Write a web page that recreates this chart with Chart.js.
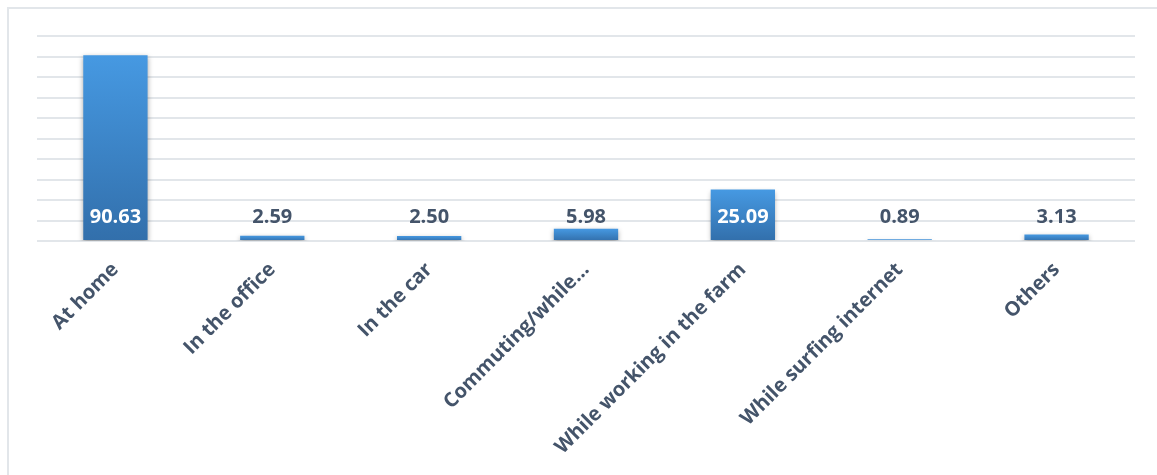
<!DOCTYPE html>
<html>
<head>
<meta charset="utf-8">
<script src="https://cdn.jsdelivr.net/npm/chart.js@4.4.1/dist/chart.umd.min.js"></script>
<style>
  html, body { margin: 0; padding: 0; background: #ffffff; }
  #wrap { position: relative; width: 1157px; height: 475px; }
  #frame { position: absolute; left: 7px; top: 7px; width: 1160px; height: 480px;
           border-left: 2px solid #e2e6ea; border-top: 2px solid #e2e6ea; box-sizing: border-box; }
  canvas { position: absolute; left: 0; top: 0; }
</style>
</head>
<body>
<div id="wrap">
  <div id="frame"></div>
  <canvas id="c" width="1157" height="475"></canvas>
</div>
<script>
// Where respondents listen to the radio (percent)
const categories = [
  'At home', 'In the office', 'In the car', 'Commuting/while\u2026',
  'While working in the farm', 'While surfing internet', 'Others'
];
const shares = [90.63, 2.59, 2.50, 5.98, 25.09, 0.89, 3.13];
const valueLabels = ['90.63', '2.59', '2.50', '5.98', '25.09', '0.89', '3.13'];

const LABEL_FONT = '"Open Sans", "Liberation Sans", sans-serif';
const TEXT_DARK = '#44546a';

// soft drop shadow under the columns
const barShadow = {
  id: 'barShadow',
  beforeDatasetsDraw(chart) {
    const ctx = chart.ctx;
    ctx.save();
    ctx.shadowColor = 'rgba(0,0,0,0.35)';
    ctx.shadowBlur = 5;
    ctx.shadowOffsetX = 0;
    ctx.shadowOffsetY = 2;
  },
  afterDatasetsDraw(chart) {
    chart.ctx.restore();
  }
};

// value labels sit just above the base of each column
const valueText = {
  id: 'valueText',
  afterDatasetsDraw(chart) {
    const ctx = chart.ctx;
    const meta = chart.getDatasetMeta(0);
    const yScale = chart.scales.y;
    const base = yScale.getPixelForValue(0);
    const ly = base - 24;
    ctx.save();
    ctx.font = 'bold 20px ' + LABEL_FONT;
    ctx.textAlign = 'center';
    ctx.textBaseline = 'middle';
    meta.data.forEach((bar, i) => {
      const top = yScale.getPixelForValue(shares[i]);
      ctx.fillStyle = top < ly - 12 ? '#ffffff' : TEXT_DARK;
      ctx.fillText(valueLabels[i], bar.x, ly);
    });
    ctx.restore();
  }
};

const ctx = document.getElementById('c').getContext('2d');
new Chart(ctx, {
  type: 'bar',
  data: {
    labels: categories,
    datasets: [{
      data: shares,
      backgroundColor(context) {
        const chart = context.chart;
        const yScale = chart.scales.y;
        if (!yScale || !chart.chartArea) return '#3f8ad2';
        const v = context.raw;
        const top = yScale.getPixelForValue(v);
        const bottom = yScale.getPixelForValue(0);
        if (!isFinite(top) || !isFinite(bottom) || bottom - top < 1) return '#4699e2';
        const g = chart.ctx.createLinearGradient(0, top, 0, bottom);
        g.addColorStop(0, '#4699e2');
        g.addColorStop(1, '#326fab');
        return g;
      },
      borderWidth: 0,
      categoryPercentage: 1.0,
      barPercentage: 0.41
    }]
  },
  options: {
    responsive: false,
    animation: false,
    layout: { padding: { top: 36, left: 37, right: 22, bottom: 0 } },
    plugins: {
      legend: { display: false },
      tooltip: { enabled: false }
    },
    scales: {
      x: {
        grid: { display: false },
        border: { display: false },
        ticks: {
          color: TEXT_DARK,
          font: { family: LABEL_FONT, size: 20, weight: 'bold' },
          minRotation: 45,
          maxRotation: 45,
          autoSkip: false,
          padding: 9
        },
        afterFit(scale) { scale.height = 234; }
      },
      y: {
        min: 0,
        max: 100,
        ticks: { display: false, stepSize: 10 },
        grid: { color: '#e2e6ea', lineWidth: 2, drawTicks: false },
        border: { display: false },
        afterFit(scale) { scale.width = 0; }
      }
    }
  },
  plugins: [barShadow, valueText]
});
</script>
</body>
</html>
